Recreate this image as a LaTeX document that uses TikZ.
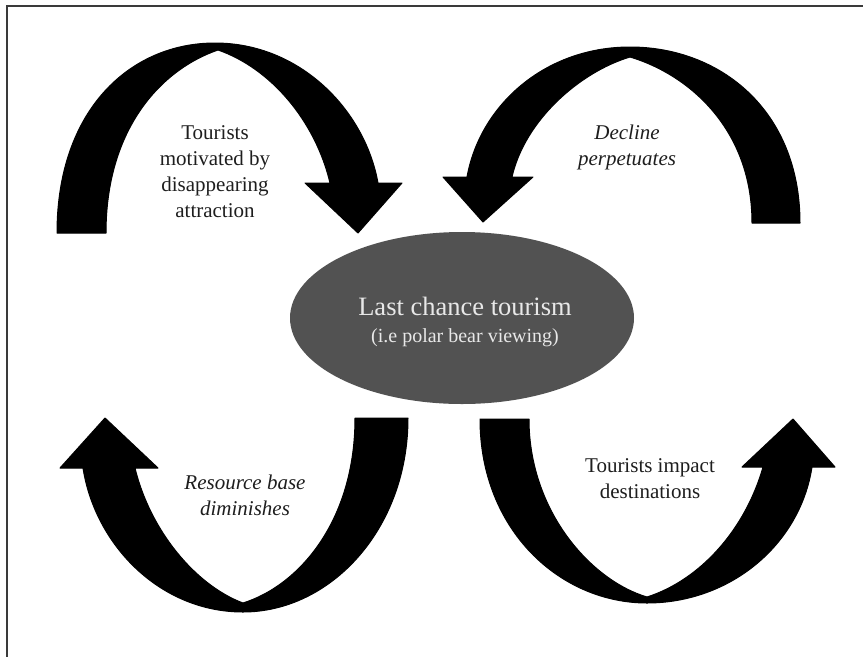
\documentclass[tikz,border=0pt]{standalone}
\usepackage{fontspec}
\setmainfont{Liberation Serif}
\usetikzlibrary{shapes.geometric}
\definecolor{ovalgray}{HTML}{525252}
\definecolor{ovaltext}{HTML}{E8E8E8}
\definecolor{labeltext}{HTML}{1E1E1E}
\definecolor{framegray}{HTML}{3A3A3A}
\tikzset{
  bigarrow/.style={fill=black, draw=black, line width=1pt, line join=round},
  lbl/.style={text=labeltext, align=center, font=\fontsize{21}{26}\selectfont, inner sep=0pt},
  ilbl/.style={lbl, font=\fontsize{21}{26}\selectfont\itshape},
  oval/.style={ellipse, fill=ovalgray, draw=none, minimum width=344pt, minimum height=172pt, inner sep=0pt},
  frameline/.style={draw=framegray, line width=1.5pt}
}
\begin{document}
\begin{tikzpicture}[x=1pt, y=-1pt]
\useasboundingbox (0,0) rectangle (863,657);
\fill[white] (0,0) rectangle (863,657);
% frame
\coordinate (ftl) at (7,6);
\coordinate (ftr) at (863,6);
\coordinate (fbl) at (7,657);
\draw[frameline] (ftr) -- (ftl) -- (fbl);

% top-left arrow
\path[bigarrow] (57,233) .. controls (57,110) and (130,43) .. (215,43)
  .. controls (300,43) and (365,110) .. (378,183)
  -- (402,183) -- (358,233) -- (305,183) -- (330,183)
  .. controls (315,120) and (270,68) .. (218,50)
  .. controls (160,70) and (106,130) .. (106,233) -- cycle;

% top-right arrow
\path[bigarrow] (800,223) .. controls (800,110) and (720,47) .. (630,47)
  .. controls (545,47) and (480,105) .. (467,177)
  -- (443,177) -- (483,222) -- (533,177) -- (512,177)
  .. controls (525,120) and (580,72) .. (630,57)
  .. controls (690,75) and (752,130) .. (752,223) -- cycle;

% bottom-left arrow
\path[bigarrow] (408,418) .. controls (408,530) and (330,612) .. (243,612)
  .. controls (160,612) and (95,545) .. (83,468)
  -- (60,468) -- (105,418) -- (158,468) -- (135,468)
  .. controls (150,530) and (195,585) .. (243,603)
  .. controls (300,585) and (355,520) .. (355,418) -- cycle;

% bottom-right arrow
\path[bigarrow] (480,419) .. controls (480,530) and (560,603) .. (647,603)
  .. controls (730,603) and (800,545) .. (812,467)
  -- (835,467) -- (793,419) -- (742,467) -- (763,467)
  .. controls (745,530) and (700,580) .. (647,597)
  .. controls (590,580) and (529,510) .. (529,419) -- cycle;

% central ellipse
\node[oval] (center) at (462,318) {};
\node[text=ovaltext, font=\fontsize{26.5}{30}\selectfont, inner sep=0pt] (title) at (465,306) {Last chance tourism};
\node[text=ovaltext, font=\fontsize{20}{24}\selectfont, inner sep=0pt] (sub) at (465,338) {(i.e polar bear viewing)};

% labels
\node[lbl] (motiv) at (215,172) {Tourists\\motivated by\\disappearing\\attraction};
\node[ilbl] (decline) at (627,147) {Decline\\perpetuates};
\node[ilbl] (resource) at (245,495) {Resource base\\diminishes};
\node[lbl] (impact) at (650,479) {Tourists impact\\destinations};
\end{tikzpicture}
\end{document}
